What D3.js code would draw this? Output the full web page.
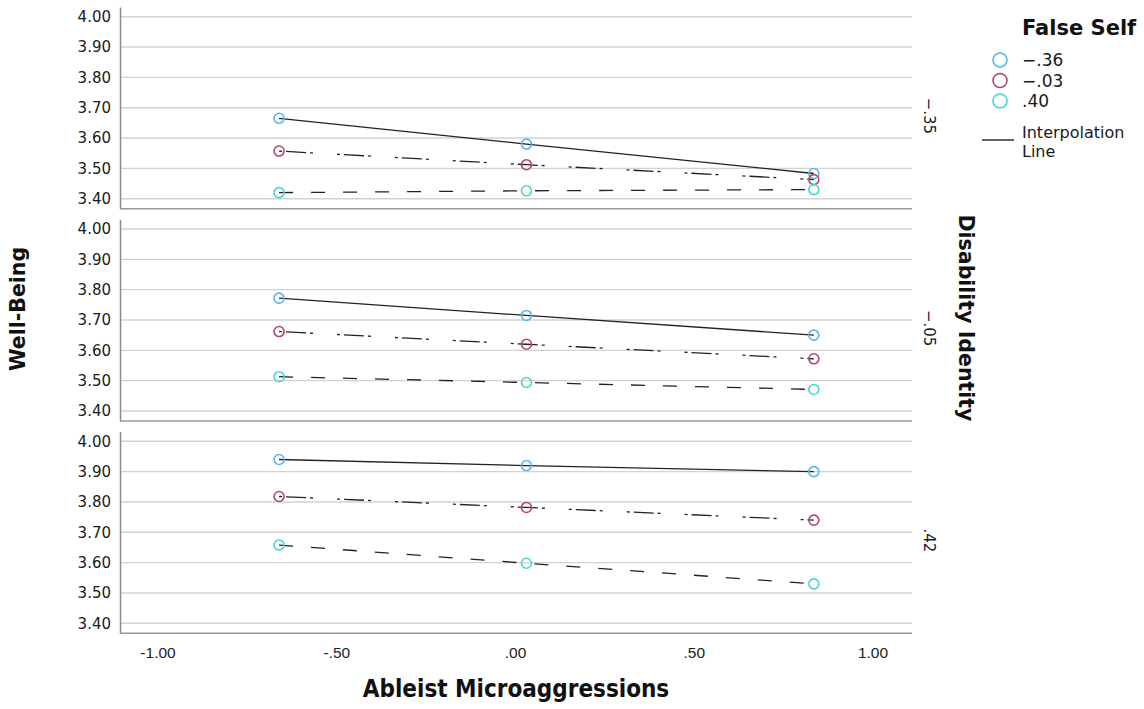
<!DOCTYPE html>
<html>
<head>
<meta charset="utf-8">
<script src="https://cdn.jsdelivr.net/npm/d3@7"></script>
<style>
  html, body { margin: 0; padding: 0; background: #fff; }
  svg { display: block; }
</style>
</head>
<body>
<svg id="chart" width="1144" height="709"></svg>
<script>
(function () {
  'use strict';

  /* ──────────────────────────────────────────────────────────────
   * DONNÉES
   * ────────────────────────────────────────────────────────────── */
  var xPoints      = [-0.66, 0.032, 0.836];
  var xTicks       = [-1, -0.5, 0, 0.5, 1];
  var xTickLabels  = ['-1.00', '-.50', '.00', '.50', '1.00'];
  var yTicks       = [3.4, 3.5, 3.6, 3.7, 3.8, 3.9, 4.0];
  var panelLabels  = ['\u2212.35', '\u2212.05', '.42'];
  var seriesLabels = ['\u2212.36', '\u2212.03', '.40'];

  // une ligne par panneau (Disability Identity), 3 points chacun
  var fsLowValues  = [[3.665, 3.580, 3.483], [3.772, 3.715, 3.650], [3.940, 3.920, 3.900]];
  var fsMidValues  = [[3.557, 3.512, 3.463], [3.662, 3.620, 3.572], [3.818, 3.782, 3.740]];
  var fsHighValues = [[3.420, 3.426, 3.430], [3.513, 3.494, 3.471], [3.658, 3.598, 3.530]];

  var seriesValues = [fsLowValues, fsMidValues, fsHighValues];
  var seriesColors = ['#55b6f2', '#b5446f', '#45d6d3'];
  var seriesDash   = [null, '3,4,20,4,3,24', '14,18'];

  /* ──────────────────────────────────────────────────────────────
   * MISE EN PAGE
   * ────────────────────────────────────────────────────────────── */
  var plotLeft    = 120;
  var plotRight   = 910;
  var panelTop0   = 7;
  var panelStep   = 212.3;
  var panelHeight = 201.7;

  var svg = d3.select('#chart');

  var x = d3.scaleLinear().domain([-1.105, 1.105]).range([plotLeft, plotRight]);

  var line = d3.line()
    .x(function (d, i) { return x(xPoints[i]); });

  panelLabels.forEach(function (label, p) {
    var top = panelTop0 + p * panelStep;
    var y = d3.scaleLinear().domain([3.367, 4.032]).range([top + panelHeight, top]);
    var g = svg.append('g').attr('class', 'panel');

    /* grille */
    g.selectAll('line.grid')
      .data(yTicks)
      .enter().append('line')
      .attr('class', 'grid')
      .attr('x1', plotLeft).attr('x2', plotRight + 2)
      .attr('y1', function (d) { return y(d); })
      .attr('y2', function (d) { return y(d); })
      .attr('stroke', '#d2d2d2')
      .attr('stroke-width', 1.4);

    /* axe Y */
    var yAxis = d3.axisLeft(y).tickValues(yTicks).tickSize(0).tickPadding(9)
      .tickFormat(d3.format('.2f'));
    var ya = g.append('g').attr('transform', 'translate(' + plotLeft + ',0)').call(yAxis);
    ya.select('.domain').attr('stroke', '#8a8a8a').attr('stroke-width', 1.5);
    ya.selectAll('text')
      .attr('font-family', 'DejaVu Sans, sans-serif')
      .attr('font-size', 15)
      .attr('fill', '#1a1a1a');

    /* bordure basse */
    g.append('line')
      .attr('x1', plotLeft).attr('x2', plotRight + 2)
      .attr('y1', top + panelHeight).attr('y2', top + panelHeight)
      .attr('stroke', '#999').attr('stroke-width', 1.6);

    /* libellé du panneau */
    g.append('text')
      .attr('transform', 'translate(924,' + (top + panelHeight / 2 + 8) + ') rotate(90)')
      .attr('text-anchor', 'middle')
      .attr('font-family', 'DejaVu Sans, sans-serif')
      .attr('font-size', 15)
      .attr('fill', '#1a1a1a')
      .text(label);

    /* lignes d'interpolation */
    line.y(function (d) { return y(d); });
    seriesValues.forEach(function (vals, s) {
      g.append('path')
        .attr('d', line(vals[p]))
        .attr('fill', 'none')
        .attr('stroke', '#222')
        .attr('stroke-width', 1.3)
        .attr('stroke-dasharray', seriesDash[s]);
    });

    /* marqueurs */
    seriesValues.forEach(function (vals, s) {
      g.selectAll('circle.s' + s)
        .data(vals[p])
        .enter().append('circle')
        .attr('class', 's' + s)
        .attr('cx', function (d, i) { return x(xPoints[i]); })
        .attr('cy', function (d) { return y(d); })
        .attr('r', 5)
        .attr('fill', 'none')
        .attr('stroke', seriesColors[s])
        .attr('stroke-width', 1.6);
    });
  });

  /* ──────────────────────────────────────────────────────────────
   * AXE X
   * ────────────────────────────────────────────────────────────── */
  var bottom = panelTop0 + 2 * panelStep + panelHeight;
  var xAxis = d3.axisBottom(x).tickValues(xTicks).tickSize(0).tickPadding(14)
    .tickFormat(function (d, i) { return xTickLabels[i]; });
  var xa = svg.append('g').attr('transform', 'translate(0,' + bottom + ')').call(xAxis);
  xa.select('.domain').remove();
  xa.selectAll('text')
    .attr('font-family', 'Liberation Sans, sans-serif')
    .attr('font-size', 15.5)
    .attr('fill', '#222');

  /* ──────────────────────────────────────────────────────────────
   * TITRES
   * ────────────────────────────────────────────────────────────── */
  svg.append('text')
    .attr('x', 516).attr('y', 697)
    .attr('text-anchor', 'middle')
    .attr('font-family', 'Liberation Sans Narrow, DejaVu Sans Condensed, sans-serif')
    .attr('font-weight', 'bold')
    .attr('font-size', 24)
    .attr('fill', '#111')
    .text('Ableist Microaggressions');

  svg.append('text')
    .attr('transform', 'translate(25,309) rotate(-90)')
    .attr('text-anchor', 'middle')
    .attr('font-family', 'DejaVu Sans, sans-serif')
    .attr('font-weight', 'bold')
    .attr('font-size', 20.5)
    .attr('fill', '#111')
    .text('Well-Being');

  svg.append('text')
    .attr('transform', 'translate(959,318) rotate(90)')
    .attr('text-anchor', 'middle')
    .attr('font-family', 'DejaVu Sans, sans-serif')
    .attr('font-weight', 'bold')
    .attr('font-size', 20.5)
    .attr('fill', '#111')
    .text('Disability Identity');

  /* ──────────────────────────────────────────────────────────────
   * LÉGENDE
   * ────────────────────────────────────────────────────────────── */
  var legend = svg.append('g').attr('class', 'legend');

  legend.append('text')
    .attr('x', 1022).attr('y', 35)
    .attr('font-family', 'DejaVu Sans, sans-serif')
    .attr('font-weight', 'bold')
    .attr('font-size', 21)
    .attr('fill', '#111')
    .text('False Self');

  var items = legend.selectAll('g.item')
    .data(seriesLabels)
    .enter().append('g')
    .attr('class', 'item')
    .attr('transform', function (d, i) { return 'translate(0,' + (60 + i * 20.5) + ')'; });

  items.append('circle')
    .attr('cx', 1000).attr('cy', 0).attr('r', 7)
    .attr('fill', 'none')
    .attr('stroke', function (d, i) { return seriesColors[i]; })
    .attr('stroke-width', 1.6);

  items.append('text')
    .attr('x', 1022).attr('y', 6)
    .attr('font-family', 'DejaVu Sans, sans-serif')
    .attr('font-size', 17)
    .attr('fill', '#1a1a1a')
    .text(function (d) { return d; });

  legend.append('line')
    .attr('x1', 982).attr('x2', 1014)
    .attr('y1', 140).attr('y2', 140)
    .attr('stroke', '#111').attr('stroke-width', 1.3);

  legend.append('text')
    .attr('x', 1022).attr('y', 138)
    .attr('font-family', 'DejaVu Sans, sans-serif')
    .attr('font-size', 16)
    .attr('fill', '#1a1a1a')
    .text('Interpolation');

  legend.append('text')
    .attr('x', 1022).attr('y', 157)
    .attr('font-family', 'DejaVu Sans, sans-serif')
    .attr('font-size', 16)
    .attr('fill', '#1a1a1a')
    .text('Line');
})();
</script>
</body>
</html>
